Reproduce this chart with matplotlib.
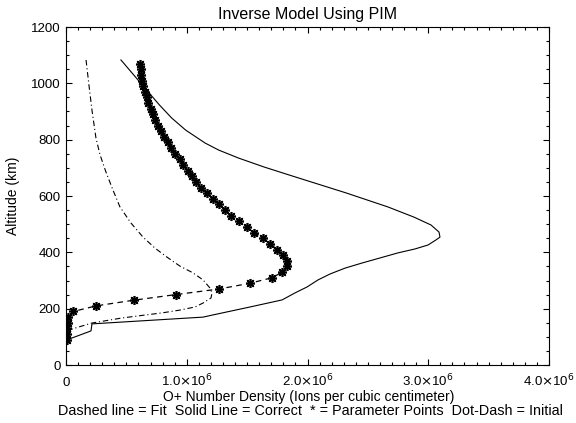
import matplotlib
matplotlib.use("Agg")
import matplotlib.pyplot as plt
from matplotlib.ticker import MultipleLocator, FixedLocator

plt.rcParams['font.family'] = ['Liberation Sans', 'DejaVu Sans']

# O+ density in units of 1e6 ions/cm^3, altitude in km

# correct profile (solid)
correct_alt = [1083, 983, 923, 877, 834, 788, 763, 735, 703, 675, 657, 611, 561,
               525, 497, 472, 454, 444, 426, 412, 398, 380, 362, 344, 323, 302,
               277, 256, 231, 206, 177, 170, 146, 121, 92, 82]
correct_den = [0.455, 0.654, 0.774, 0.875, 0.991, 1.152, 1.265, 1.427, 1.640, 1.845,
               1.978, 2.319, 2.667, 2.882, 3.023, 3.089, 3.097, 3.064, 2.998, 2.890,
               2.749, 2.600, 2.451, 2.311, 2.186, 2.087, 1.996, 1.897, 1.789, 1.524,
               1.209, 1.135, 0.215, 0.207, 0.025, 0.01]

# initial guess (dot-dash)
initial_alt = [1083, 994, 905, 806, 746, 685, 621, 561, 504, 454, 415, 383, 351,
               327, 302, 273, 256, 238, 220, 206, 195, 185, 167, 149, 131, 124, 110]
initial_den = [0.166, 0.190, 0.215, 0.248, 0.282, 0.331, 0.389, 0.447, 0.538, 0.638,
               0.737, 0.836, 0.944, 1.052, 1.135, 1.193, 1.209, 1.201, 1.135, 1.068,
               0.944, 0.795, 0.464, 0.215, 0.075, 0.025, 0.005]

# fitted profile at the parameter points (dashed + asterisks)
fit_alt = [1070, 1050, 1030, 1010, 990, 970, 950, 930, 910, 890, 870, 850, 830, 810,
           790, 770, 750, 730, 710, 690, 670, 650, 630, 610, 590, 570, 550, 530, 510,
           490, 470, 450, 430, 410, 390, 370, 350, 330, 310, 290, 270, 250, 230, 210,
           190, 170, 150, 130, 110, 90]
fit_den = [0.61, 0.62, 0.625, 0.63, 0.64, 0.655, 0.67, 0.68, 0.70, 0.72, 0.74, 0.76,
           0.785, 0.81, 0.845, 0.87, 0.90, 0.94, 0.97, 1.01, 1.04, 1.08, 1.12, 1.17,
           1.22, 1.27, 1.32, 1.37, 1.43, 1.50, 1.56, 1.63, 1.69, 1.75, 1.80, 1.83,
           1.83, 1.79, 1.71, 1.52, 1.27, 0.91, 0.56, 0.25, 0.06, 0.02, 0.015, 0.01,
           0.01, 0.01]

xticks = [0, 1, 2, 3, 4]
xticklabels = ['0', r'1.0$\times$10$^{6}$', r'2.0$\times$10$^{6}$',
               r'3.0$\times$10$^{6}$', r'4.0$\times$10$^{6}$']
yticks = [0, 200, 400, 600, 800, 1000, 1200]

fig = plt.figure(figsize=(5.76, 4.23), dpi=100)
ax = fig.add_axes([66 / 576, 58 / 423, 483 / 576, 338 / 423])

ax.plot(correct_den, correct_alt, color='black', lw=0.8)
ax.plot(initial_den, initial_alt, color='black', lw=0.8,
        linestyle=(0, (5, 2.5, 1, 2.5)))
ax.plot(fit_den, fit_alt, color='black', lw=0.9, linestyle=(0, (4.5, 3.5)),
        marker=(8, 2, 0), markersize=6.5, markeredgewidth=1.2)

ax.set_xlim(0, 4)
ax.set_ylim(0, 1200)
ax.xaxis.set_major_locator(FixedLocator(xticks))
ax.set_xticklabels(xticklabels, fontsize=9.5)
for lab in ax.get_xticklabels():
    lab.set_verticalalignment('baseline')
ax.xaxis.set_minor_locator(MultipleLocator(0.1))
ax.yaxis.set_major_locator(FixedLocator(yticks))
ax.set_yticklabels([str(v) for v in yticks], fontsize=9.5)
ax.yaxis.set_minor_locator(MultipleLocator(50))
ax.tick_params(which='both', direction='in', top=True, right=True, width=0.8)
ax.tick_params(which='major', length=4.5)
ax.tick_params(which='minor', length=2.2)
ax.tick_params(axis='x', which='major', pad=15)
ax.tick_params(axis='y', which='major', pad=4)
for s in ax.spines.values():
    s.set_linewidth(0.8)

ax.set_title('Inverse Model Using PIM', fontsize=11.5, pad=6)
ax.set_ylabel('Altitude (km)', fontsize=10)
ax.yaxis.set_label_coords((20 - 66) / 483, 0.5)
fig.text(309 / 576, 1 - 401 / 423,
         'O+ Number Density (Ions per cubic centimeter)',
         ha='center', va='baseline', fontsize=10)
fig.text(310 / 576, 1 - 415 / 423,
         'Dashed line = Fit  Solid Line = Correct  * = Parameter Points  Dot-Dash = Initial',
         ha='center', va='baseline', fontsize=10.4)

fig.savefig('out.png', dpi=100)
